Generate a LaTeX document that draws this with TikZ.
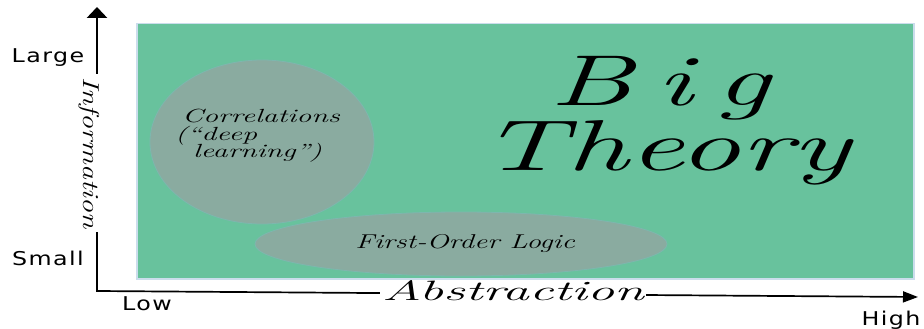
\documentclass[tikz,border=0pt]{standalone}
\usepackage{fontspec}
\usepackage{graphicx}
\usetikzlibrary{arrows.meta,shapes.geometric}
\newfontfamily\labfont[LetterSpace=6]{DejaVu Sans}
\definecolor{bggreen}{HTML}{68C29D}
\definecolor{blobgrey}{HTML}{8AABA0}
\definecolor{edgeblue}{HTML}{CBDDEC}
\definecolor{blobedge}{HTML}{7DB7AE}
\newcommand\hwtext[3]{\scalebox{#1}[1]{\fontsize{#2}{#2}\selectfont\itshape #3}}
\newcommand\labtext[1]{\scalebox{1.25}[1]{\labfont\fontsize{19}{19}\selectfont #1}}
\begin{document}
\begin{tikzpicture}[x=1pt,y=-1pt,
  hand/.style={inner sep=0pt, text=black},
  lab/.style={inner sep=0pt, anchor=base},
  axisline/.style={line width=2.8pt, line cap=rect},
  xaxisline/.style={line width=1.7pt}]
\useasboundingbox (0,0) rectangle (924,329);
\fill[white] (0,0) rectangle (924,329);
% panel
\node[draw=edgeblue, line width=1.5pt, fill=bggreen, minimum width=777pt,
      minimum height=255pt, anchor=north west, inner sep=0pt] (panel) at (136,23) {};
% blobs
\node[ellipse, fill=blobgrey, draw=blobedge, line width=0.8pt,
      minimum width=224pt, minimum height=164pt, inner sep=0pt] (corr) at (262,142) {};
\node[ellipse, fill=blobgrey, draw=blobedge, line width=0.8pt,
      minimum width=412pt, minimum height=64pt, inner sep=0pt] (fol) at (461,244) {};
% texts
\node[hand, anchor=base west] (corr1) at (182,122) {\hwtext{1.58}{19}{Correlations}};
\node[hand, anchor=base west] (corr2) at (175,140) {\hwtext{1.58}{19}{(“deep}};
\node[hand, anchor=base west] (corr3) at (193,157) {\hwtext{1.58}{19}{learning”)}};
\node[hand, anchor=base] (folt) at (465,248) {\hwtext{1.47}{20}{First-Order Logic}};
\node[hand, anchor=base] (big) at (660,105) {\hwtext{1.68}{72}{B\hspace{14pt}i\hspace{14pt}g}};
\node[hand, anchor=base] (theory) at (665,170) {\hwtext{1.72}{72}{Theory}};
% axes
\coordinate (origin) at (97,291);
\coordinate (ytip) at (97,7);
\coordinate (xtip) at (918,297);
\draw[axisline, -{Triangle[width=20pt,length=11pt]}] (origin) -- (ytip);
\draw[xaxisline, -{Triangle[width=11pt,length=15pt]}] (origin) -- (xtip);
\node[hand, rotate=-90, fill=white, inner xsep=3pt, inner ysep=1pt] (ylab) at (89,153) {\hwtext{1.29}{23}{Information}};
\node[hand, anchor=base, fill=white, inner xsep=2pt, inner ysep=0pt] (xlab) at (513,300) {\hwtext{1.93}{28}{Abstraction}};
% tick labels
\node[lab] (large) at (48,63) {\labtext{Large}};
\node[lab] (small) at (48,265) {\labtext{Small}};
\node[lab] (low) at (147,310) {\labtext{Low}};
\node[lab] (high) at (891,325) {\labtext{High}};
\end{tikzpicture}
\end{document}
